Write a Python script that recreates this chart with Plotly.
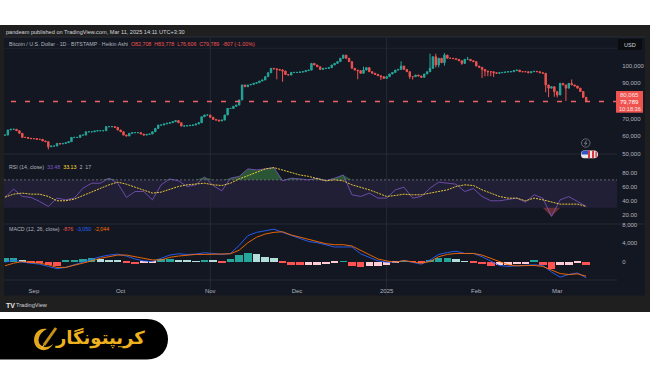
import pandas as pd
import numpy as np
import plotly.graph_objects as go

W, H = 650, 365
# ---------- price (thousands of USD), daily Heikin Ashi closes ----------
close_k = [
 60.7,63.6,64.0,64.0,63.2,61.7,59.4,59.4,58.9,58.7,
 58.7,58.3,58.3,57.4,57.0,54.1,54.5,54.5,56.0,55.7,
 56.0,56.4,57.0,59.4,59.4,59.4,60.7,60.7,62.6,62.6,
 62.6,63.0,63.2,63.2,63.2,65.5,65.5,65.5,65.1,63.6,
 62.6,60.7,60.2,61.7,62.1,62.1,62.1,61.3,60.7,61.1,
 61.3,62.6,64.5,66.4,66.4,67.0,67.4,67.7,68.3,68.9,
 67.7,65.8,65.9,66.0,66.2,66.4,67.0,67.7,71.1,72.1,72.1,
 70.8,69.6,69.2,68.7,69.2,72.1,75.8,75.8,77.0,77.7,80.6,
 89.1,88.1,89.1,89.4,90.0,90.4,91.3,91.9,93.8,96.0,
 98.5,98.2,97.9,97.5,97.0,95.0,94.7,96.2,96.2,96.2,96.4,
 96.6,97.2,97.5,101.3,100.4,99.4,97.9,98.5,
 98.5,98.9,100.4,101.3,102.3,104.2,106.0,104.2,102.3,98.5,
 97.5,97.2,95.7,97.5,98.9,96.6,95.7,95.1,94.3,93.8,
 92.8,93.8,95.3,96.2,97.5,97.9,99.8,97.9,96.6,93.8,
 93.8,94.7,94.2,93.4,95.3,96.6,98.5,105.1,100.4,104.2,
 101.7,106.0,104.2,104.2,104.0,103.6,102.8,101.3,103.6,103.6,
 102.8,102.3,99.8,99.1,97.9,97.0,96.6,96.6,96.0,95.7,
 96.0,96.2,96.4,96.6,96.6,97.2,97.5,96.6,96.6,96.6,96.0,96.6,
 96.8,96.6,96.0,95.7,89.1,87.3,88.1,85.3,83.4,90.0,
 89.1,87.3,90.0,89.1,88.5,87.3,85.4,82.1,79.789]
wick_high_k = {"2024-11-24":98.5,"2024-11-26":98.0,"2024-12-24":99.5,"2025-01-06":102.5,
 "2025-01-16":106.8,"2025-01-18":106.8,"2025-01-19":103.8,"2025-01-21":107.2,"2025-01-29":105.0,
 "2025-03-02":90.3,"2025-03-06":92.2}
wick_low_k = {"2024-09-06":52.6,"2024-11-24":92.3,"2024-11-26":90.9,"2024-12-22":92.3,"2024-12-30":91.9,
 "2025-01-09":92.5,"2025-01-10":92.1,"2025-01-16":99.0,"2025-01-18":99.0,"2025-01-19":99.0,"2025-01-21":100.0,
 "2025-01-27":100.5,"2025-02-03":93.0,"2025-02-04":94.0,"2025-02-05":94.0,"2025-02-06":94.0,"2025-02-07":93.6,
 "2025-02-25":85.0,"2025-02-26":82.2,"2025-02-28":82.4,"2025-03-01":82.0,"2025-03-02":84.5,"2025-03-04":80.0}
last_date = "2025-03-11"

# ---------- indicators, sampled every 3 days ----------
rsi = [44.8,56.7,46.2,44.8,39,31.9,43.8,41.4,43.8,58.1,65.2,65.2,72.4,65.2,44.8,53.3,53.3,41.4,62.9,71.4,68.6,60.5,62.9,74,
 61.9,54.3,72.4,75,85.7,84.3,85.7,87.6,68.6,72.4,71.4,70,72.4,68.6,
 72.4,77,48.6,46.2,51,43.8,43.8,55.7,59.5,43.8,46.2,58.1,66.7,65.2,63.8,53.3,57.5,46.2,40,40,41.4,43.8,38.1,48.6,43.8,17.6,41.4,46,39,31.9]
rsi_ma = [45.2,49.5,51,49.5,49.5,46.2,40,40,42.4,47.6,53.3,58.1,62.9,66.7,63.8,59.5,55.7,51,52.4,56.7,60.5,62.9,64.3,65.2,
 62.9,61.9,65.2,71.4,76,81,85.7,87.6,84.3,81,77,75,71.4,68.6,
 70,68.6,62.9,59.5,55.7,51,46.2,47.6,49.5,48.6,48.6,51,53.3,55.7,60.5,62.9,61.9,55.7,51,46.2,43.8,43.8,40,43.8,41.4,38,35.2,35.2,35.2,31.9]
macd = [-140,350,-140,-350,-560,-1050,-1540,-1260,-700,-140,560,1050,1400,1610,1190,560,140,0,700,1400,1680,1540,1610,1890,
 1750,1540,1750,3500,5600,6300,6650,7000,6300,5600,5040,4340,4060,3640,
 3150,3150,3150,1680,840,140,-140,-140,210,-140,-560,350,1540,1960,2240,1750,1750,1050,140,-840,-1050,-910,-840,-700,-840,-2240,-3360,-2800,-2450,-3500]
signal = [-910,-350,0,-140,-350,-700,-1260,-1260,-840,-350,140,700,1050,1400,1400,1050,560,350,350,910,1190,1400,1540,1540,
 1610,1540,1680,2450,4060,5250,5950,6300,6440,5740,5250,4760,4200,3850,
 3640,3640,3360,2450,1400,560,140,-140,210,0,-350,0,1050,1540,1750,1750,1750,1400,700,-140,-700,-910,-910,-840,-1050,-1750,-2590,-2800,-2660,-3150]
hist = [700,840,280,-140,-350,-840,-910,140,350,490,700,560,420,280,-350,-490,-350,-210,490,560,350,140,50,280,140,-210,490,1400,1820,1680,980,770,-140,-700,-840,-700,-700,-630,
 -140,70,-1050,-1260,-1050,-1050,-700,-140,70,-70,-140,350,840,840,560,70,-140,-560,-1050,-840,-700,-630,-490,140,-700,-1540,-840,-700,-140,-700]

# ---------- texts ----------
month_labels = ["Sep","Oct","Nov","Dec","2025","Feb","Mar"]
month_dates = ["2024-09-01","2024-10-01","2024-11-01","2024-12-01","2025-01-01","2025-02-01","2025-03-01"]
price_ticks = [100000,90000,70000,60000,50000]
rsi_ticks = [80,60,40,20]
macd_ticks = [8000,4000,0,-4000]

GREEN, RED = "#26a69a", "#ef5350"

def pxx(x): return x/W
def pxy(y): return 1-y/H
def rect(x0,y0,x1,y1,color,**kw):
    return dict(type="rect",xref="paper",yref="paper",x0=pxx(x0),x1=pxx(x1),y0=pxy(y0),y1=pxy(y1),
                fillcolor=color,line=dict(width=0),layer=kw.get("layer","below"))
def hline(x0,x1,y,color,width=1,dash="solid",layer="below"):
    return dict(type="line",xref="paper",yref="paper",x0=pxx(x0),x1=pxx(x1),y0=pxy(y),y1=pxy(y),
                line=dict(color=color,width=width,dash=dash),layer=layer)
def path(points,fill,line=None,width=0,layer="above"):
    cmds=[]
    for c in points:
        if isinstance(c,str): cmds.append(c)
        else: cmds.append(f"{pxx(c[0]):.5f},{pxy(c[1]):.5f}")
    return dict(type="path",xref="paper",yref="paper",path=" ".join(cmds),fillcolor=fill,
                line=dict(color=line or fill,width=width),layer=layer)
def label(x,y,text,size=5.6,color="#b2b5be",xanchor="left",family="Liberation Sans",bold=False):
    if bold: text=f"<b>{text}</b>"
    return dict(xref="paper",yref="paper",x=pxx(x),y=pxy(y),text=text,showarrow=False,xanchor=xanchor,yanchor="middle",
                xshift=0,yshift=0,borderpad=0,font=dict(size=size,color=color,family=family))

dates = pd.date_range(end=last_date,periods=len(close_k),freq="D")
close = np.array(close_k)*1000
opens = np.r_[close[0],close[:-1]]
high = np.maximum(opens,close); low = np.minimum(opens,close)
for d,v in wick_high_k.items():
    i = dates.get_loc(pd.Timestamp(d)); high[i]=max(high[i],v*1000)
for d,v in wick_low_k.items():
    i = dates.get_loc(pd.Timestamp(d)); low[i]=min(low[i],v*1000)
ind_dates = pd.date_range(end=last_date,periods=len(rsi),freq="3D")

fig = go.Figure()
fig.add_trace(go.Candlestick(x=dates,open=opens,high=high,low=low,close=close,xaxis="x",yaxis="y",whiskerwidth=0,
    increasing=dict(line=dict(color=GREEN,width=1),fillcolor=GREEN),
    decreasing=dict(line=dict(color=RED,width=1),fillcolor=RED),showlegend=False))

r = np.array(rsi,float)
# overbought / oversold fills
fig.add_trace(go.Scatter(x=ind_dates,y=np.full(len(r),70),yaxis="y2",mode="lines",line=dict(width=0),showlegend=False))
fig.add_trace(go.Scatter(x=ind_dates,y=np.maximum(r,70),yaxis="y2",mode="lines",line=dict(width=0),fill="tonexty",
                         fillcolor="rgba(76,175,80,0.42)",showlegend=False))
fig.add_trace(go.Scatter(x=ind_dates,y=np.full(len(r),30),yaxis="y2",mode="lines",line=dict(width=0),showlegend=False))
fig.add_trace(go.Scatter(x=ind_dates,y=np.minimum(r,30),yaxis="y2",mode="lines",line=dict(width=0),fill="tonexty",
                         fillcolor="rgba(239,83,80,0.38)",showlegend=False))
fig.add_trace(go.Scatter(x=ind_dates,y=rsi,yaxis="y2",mode="lines",line=dict(color="#7e57c2",width=0.8),showlegend=False))
fig.add_trace(go.Scatter(x=ind_dates,y=rsi_ma,yaxis="y2",mode="lines",line=dict(color="#fdd835",width=0.9,dash="2px,1px"),showlegend=False))

hc=[]
for i,v in enumerate(hist):
    prev = hist[i-1] if i else v
    if v>=0: hc.append("#26a69a" if v>=prev else "#b2dfdb")
    else: hc.append("#ff5252" if v<prev else "#ffcdd2")
fig.add_trace(go.Bar(x=ind_dates,y=hist,yaxis="y3",marker=dict(color=hc,line=dict(width=0)),width=2.6*86400000,showlegend=False))
fig.add_trace(go.Scatter(x=ind_dates,y=macd,yaxis="y3",mode="lines",line=dict(color="#2962ff",width=0.9),showlegend=False))
fig.add_trace(go.Scatter(x=ind_dates,y=signal,yaxis="y3",mode="lines",line=dict(color="#ff6d00",width=0.9),showlegend=False))

tickfont = dict(size=6,color="#b2b5be",family="Liberation Sans")
yax = dict(side="right",anchor="x",showgrid=False,zeroline=False,ticks="outside",ticklen=3,tickcolor="rgba(0,0,0,0)",
           tickfont=tickfont,showline=False,fixedrange=True)

shapes = [
    rect(0,25,650,312,"#1f1f1f"),
    rect(4,37,645,295.5,"#131722"),
    hline(4,617,48.3,"#20242f"), hline(4,617,154,"#262a35"), hline(4,645,224,"#262a35"), hline(4,617,280,"#262a35"),
    hline(4,645,37,"#2a2e39"),
    # RSI band and 70 line
    dict(type="rect",xref="paper",yref="y2",x0=pxx(4),x1=pxx(617),y0=30,y1=70,fillcolor="rgba(126,87,194,0.13)",line=dict(width=0),layer="below"),
    dict(type="line",xref="paper",yref="y2",x0=pxx(4),x1=pxx(617),y0=70,y1=70,line=dict(color="#9598a1",width=0.6,dash="2px,2px"),layer="below"),
    # month grid lines
    dict(type="line",xref="x",yref="paper",x0="2024-11-01",x1="2024-11-01",y0=pxy(295),y1=pxy(37),line=dict(color="#262a35",width=1),layer="below"),
    dict(type="line",xref="x",yref="paper",x0="2025-01-01",x1="2025-01-01",y0=pxy(295),y1=pxy(37),line=dict(color="#262a35",width=1),layer="below"),
    # last price line
    dict(type="line",xref="paper",yref="y",x0=pxx(11),x1=pxx(617),y0=close[-1],y1=close[-1],line=dict(color="#f0606a",width=1.5,dash="5px,9px"),layer="above"),
    # price tag
    rect(616,91,643,112.7,"#ef5350",layer="above"),
    # USD box
    rect(618,39,642,50,"#0b0c10",layer="above"),
    # event markers
    dict(type="circle",xref="paper",yref="paper",x0=pxx(581.5),x1=pxx(590),y0=pxy(147.2),y1=pxy(138.8),fillcolor="#131722",line=dict(color="#787b86",width=0.8),layer="above"),
    path(["M",(586.5,140.5),"L",(584.5,143.5),"L",(587,143),"L",(585,145.5)],"rgba(0,0,0,0)","#9598a1",0.7),
    path(["M",(584,150.5),"L",(594,150.5),"Q",(598,150.5),(598,154.5),"Q",(598,158.3),(594,158.3),"L",(584,158.3),"Q",(581,158.3),(581,154.5),"Q",(581,150.5),(584,150.5),"Z"],"#e8e8e8"),
    rect(588,150.8,590,158,"#d9363e",layer="above"), rect(592,150.8,594,158,"#d9363e",layer="above"), rect(595.4,151.5,596.8,157.4,"#d9363e",layer="above"),
    path(["M",(584,150.8),"L",(588,150.8),"L",(588,154.6),"L",(581.5,154.6),"Q",(581.5,150.8),(584,150.8),"Z"],"#2f55c8"),
    # brand pill
    path(["M",(0,319),"L",(147,319),"C",(175,319),(175,359.5),(147,359.5),"L",(0,359.5),"Z"],"#000000"),
    # brand icon
    path(["M",(47,329),"C",(33,326),(29,347),(42,350),"C",(47,351),(52,347),(53,344),"C",(50,347),(45,348),(42,346),"C",(36,343),(38,333),(47,329),"Z"],"#e3a81c"),
    dict(type="line",xref="paper",yref="paper",x0=pxx(56),y0=pxy(328),x1=pxx(44),y1=pxy(345),line=dict(color="#c98f14",width=3),layer="above"),
    dict(type="line",xref="paper",yref="paper",x0=pxx(44),y0=pxy(345),x1=pxx(41),y1=pxy(349),line=dict(color="#f0c24a",width=1.2),layer="above"),
]

annotations = [
    label(5,31.7,"pandeam published on TradingView.com, Mar 11, 2025 14:11 UTC+3:30",5.6,"#d1d4dc"),
    label(8,44,'Bitcoin / U.S. Dollar · 1D · BITSTAMP · Heikin Ashi  <span style="color:#ef5350">O82,708  H83,778  L76,606  C79,789  -807 (-1.00%)</span>',5.3,"#b2b5be"),
    label(8,167,'RSI (14, close)  <span style="color:#7e57c2">33.48</span>  <span style="color:#fdd835">33.13</span>  2  17',5.3,"#b2b5be"),
    label(8,229,'MACD (12, 26, close)  <span style="color:#ef5350">-876</span>  <span style="color:#2962ff">-3,050</span>  <span style="color:#ff6d00">-2,044</span>',5.3,"#b2b5be"),
    label(5,305,"TV",7,"#e8e8e8",bold=True),
    label(15,305,"TradingView",5.6,"#d1d4dc"),
    label(630,44.5,"USD",5.6,"#d1d4dc",xanchor="center"),
    label(629.5,95,"80,065",6,"#fbe3e3",xanchor="center"),
    label(629.5,102,"79,789",6,"#ffffff",xanchor="center"),
    label(629.5,108.8,"10:18:36",5.6,"#fbe3e3",xanchor="center"),
    label(146,338,"کریپتونگار",18,"#eeb21e",xanchor="right",family="DejaVu Sans",bold=True),
]

fig.update_layout(
    width=W,height=H,autosize=False,margin=dict(l=0,r=0,t=0,b=0,pad=0,autoexpand=False),
    paper_bgcolor="#ffffff",plot_bgcolor="rgba(0,0,0,0)",showlegend=False,bargap=0,
    xaxis=dict(domain=[pxx(4),pxx(617)],range=["2024-08-21 16:00","2025-03-21 16:00"],anchor="y3",type="date",automargin=False,
               rangeslider=dict(visible=False),showgrid=False,zeroline=False,showline=False,
               tickvals=month_dates,ticktext=month_labels,ticks="outside",ticklen=5,tickcolor="rgba(0,0,0,0)",tickfont=tickfont,fixedrange=True),
    yaxis=dict(domain=[pxy(154),pxy(37)],range=[50000,116250],tickvals=price_ticks,tickformat=",d",automargin=False,**yax),
    yaxis2=dict(domain=[pxy(224),pxy(154)],range=[6.7,107.1],tickvals=rsi_ticks,tickformat=".2f",automargin=False,**yax),
    yaxis3=dict(domain=[pxy(280),pxy(224)],range=[-3980,8110],tickvals=macd_ticks,ticktext=["8,000","4,000","0","-4,000"],automargin=False,**yax),
    shapes=shapes,annotations=annotations,
)
fig.write_html("out.html",config=dict(displayModeBar=False),post_script="document.body.style.margin='0';document.body.style.overflow='hidden';")
